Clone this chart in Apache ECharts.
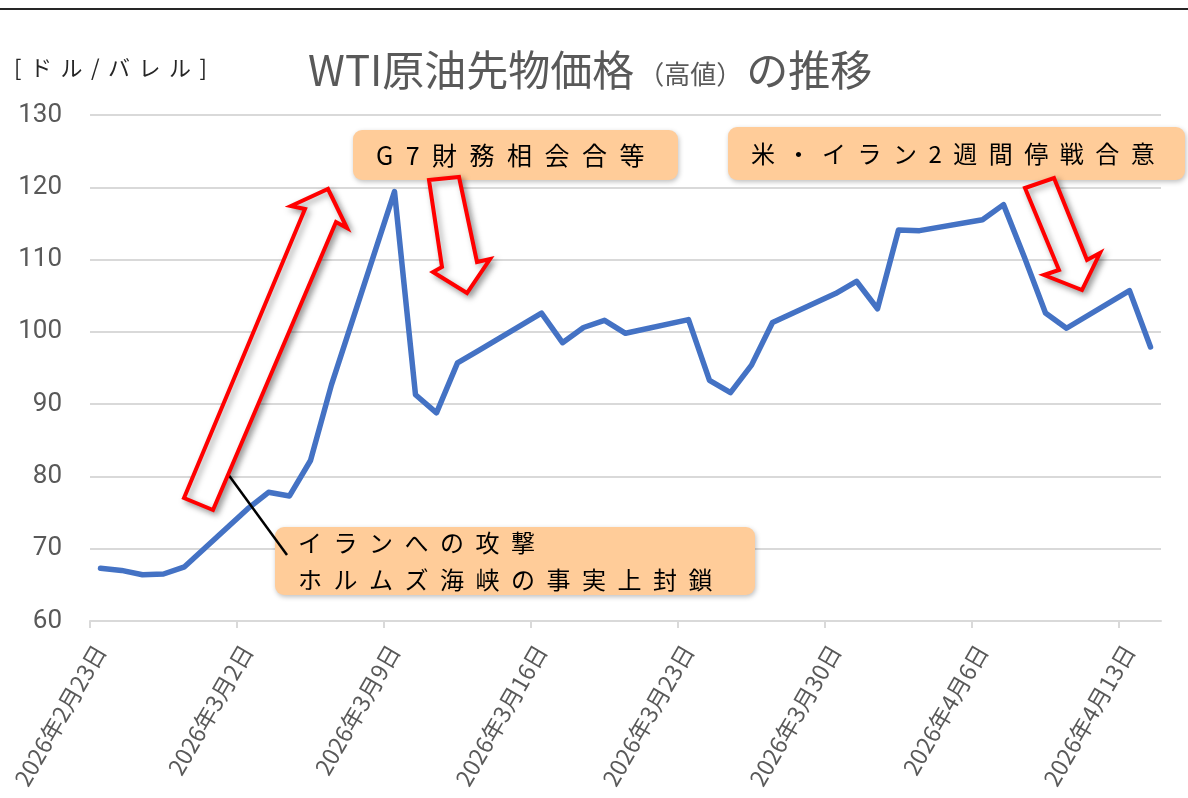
<!DOCTYPE html>
<html>
<head>
<meta charset="utf-8">
<title>WTI原油先物価格（高値）の推移</title>
<script src="https://cdn.jsdelivr.net/npm/echarts@6/dist/echarts.min.js"></script>
<style>
  html, body { margin: 0; padding: 0; background: #fff; }
  #chart { width: 1188px; height: 798px; }
</style>
</head>
<body>
<div id="chart"></div>
<script>
// 取引日と高値（ドル/バレル）
const startDate = '2026-02-23';
const dates = [
  '2026-02-23', '2026-02-24', '2026-02-25', '2026-02-26', '2026-02-27',
  '2026-03-02', '2026-03-03', '2026-03-04', '2026-03-05', '2026-03-06',
  '2026-03-09', '2026-03-10', '2026-03-11', '2026-03-12', '2026-03-13',
  '2026-03-16', '2026-03-17', '2026-03-18', '2026-03-19', '2026-03-20',
  '2026-03-23', '2026-03-24', '2026-03-25', '2026-03-26', '2026-03-27',
  '2026-03-30', '2026-03-31', '2026-04-01', '2026-04-02', '2026-04-03',
  '2026-04-06', '2026-04-07', '2026-04-08', '2026-04-09', '2026-04-10',
  '2026-04-13', '2026-04-14'
];
const prices = [
  67.3, 67.0, 66.4, 66.5, 67.5,
  75.5, 77.8, 77.3, 82.2, 92.7,
  119.4, 91.3, 88.8, 95.7, 97.4,
  102.6, 98.5, 100.6, 101.6, 99.8,
  101.7, 93.3, 91.6, 95.4, 101.3,
  105.3, 107.0, 103.2, 114.1, 114.0,
  115.5, 117.6, 110.3, 102.6, 100.5,
  105.7, 97.9
];
const weekLabels = [
  '2026年2月23日', '2026年3月2日', '2026年3月9日', '2026年3月16日',
  '2026年3月23日', '2026年3月30日', '2026年4月6日', '2026年4月13日'
];
const xDays = 51;
const yMin = 60, yMax = 130, yStep = 10;

const FONT = '"Noto Sans CJK JP", "Noto Sans", sans-serif';

// 文字ごとに rich の余白で字間をとる
const spaced = s => s.split('\n')
  .map(line => Array.from(line).map(c => '{c|' + c + '}').join(''))
  .join('\n');

const dayIndex = d => (Date.parse(d) - Date.parse(startDate)) / 86400000;
const seriesData = dates.map((d, i) => [dayIndex(d) + 0.5, prices[i]]);
const weekTicks = weekLabels.map((_, i) => i * 7);

const red = '#ff0000';
const shadow = { shadowBlur: 6, shadowOffsetX: 3, shadowOffsetY: 3, shadowColor: 'rgba(0,0,0,0.35)' };
const boxShadow = { shadowBlur: 5, shadowOffsetX: 1, shadowOffsetY: 2, shadowColor: 'rgba(0,0,0,0.25)' };

function arrow(points) {
  return {
    type: 'polygon', z: 103,
    shape: { points: points },
    style: Object.assign({ fill: '#fff', stroke: red, lineWidth: 4, lineJoin: 'miter' }, shadow)
  };
}

function spacedText(x, y, text, fontSize, gap, color, lineHeight) {
  return {
    type: 'text', z: 101, x: x, y: y,
    style: {
      text: spaced(text), fill: color, fontSize: fontSize, fontFamily: FONT,
      verticalAlign: 'middle', align: 'left',
      rich: { c: { fontSize: fontSize, fontFamily: FONT, fill: color, padding: [0, gap, 0, 0], lineHeight: lineHeight } }
    }
  };
}

function box(x, y, w, h, text, fontSize, gap, lineHeight) {
  return [{
    type: 'rect', z: 100,
    shape: { x: x, y: y, width: w, height: h, r: 9 },
    style: Object.assign({ fill: '#ffcc99' }, boxShadow)
  }, spacedText(x + 23, y + h / 2, text, fontSize, gap, '#000', lineHeight)];
}

const chart = echarts.init(document.getElementById('chart'));
chart.setOption({
  animation: false,
  backgroundColor: '#fff',
  textStyle: { fontFamily: FONT },
  title: {
    left: 303, top: 44,
    text: '{b|WTI原油先物価格}{s|（高値）}{b|の推移}',
    textStyle: {
      fontWeight: 'normal',
      rich: {
        b: { fontSize: 42, color: '#595959', fontFamily: FONT, fontWeight: 'normal' },
        s: { fontSize: 26, color: '#595959', fontFamily: FONT, fontWeight: 'normal', padding: [8, 4, 0, 4] }
      }
    }
  },
  grid: { left: 90, right: 27, top: 115, bottom: 177, containLabel: false, outerBoundsMode: 'none' },
  xAxis: {
    type: 'value',
    min: 0, max: xDays, interval: 7,
    axisLine: { lineStyle: { color: '#d9d9d9', width: 2 } },
    axisTick: { show: true, length: 7, customValues: weekTicks, lineStyle: { color: '#d9d9d9', width: 2 } },
    splitLine: { show: false },
    axisLabel: {
      customValues: weekTicks,
      rotate: 60, margin: 20, fontSize: 23, color: '#595959', fontFamily: FONT,
      verticalAlign: 'top',
      formatter: v => weekLabels[Math.round(v / 7)] || ''
    }
  },
  yAxis: {
    type: 'value',
    min: yMin, max: yMax, interval: yStep,
    axisLine: { show: false },
    axisTick: { show: false },
    splitLine: { lineStyle: { color: '#d9d9d9', width: 2 } },
    axisLabel: { fontSize: 26, color: '#595959', margin: 28, fontFamily: 'Roboto, "Noto Sans", sans-serif' }
  },
  series: [{
    type: 'line',
    data: seriesData,
    symbol: 'none',
    lineStyle: { color: '#4472c4', width: 5.5, cap: 'round', join: 'round' },
    z: 5
  }],
  graphic: [].concat(
    [{
      type: 'line', z: 100,
      shape: { x1: 0, y1: 9, x2: 1188, y2: 9 },
      style: { stroke: '#262626', lineWidth: 2 }
    }],
    [spacedText(14, 68, '[ドル/バレル]', 22, 8.5, '#262626')],
    [
      arrow([[184, 498], [305, 209], [291, 206], [328, 189], [347, 228], [336, 222], [213, 510]]),
      arrow([[429, 180], [459, 177], [477, 262], [490, 259], [467, 293], [433, 272], [442, 267]]),
      arrow([[1025, 188], [1054, 178], [1087, 260], [1100, 253], [1082, 290], [1044, 275], [1059, 270]])
    ],
    box(353, 130, 325, 50, 'G7財務相会合等', 25, 12.5),
    box(728, 127, 457, 53, '米・イラン2週間停戦合意', 24, 11.5),
    [{
      type: 'line', z: 102,
      shape: { x1: 225, y1: 470, x2: 287, y2: 555 },
      style: { stroke: '#000', lineWidth: 2.5 }
    }],
    box(275, 527, 480, 68, 'イランへの攻撃\nホルムズ海峡の事実上封鎖', 24, 11.5, 37)
  )
});
</script>
</body>
</html>
